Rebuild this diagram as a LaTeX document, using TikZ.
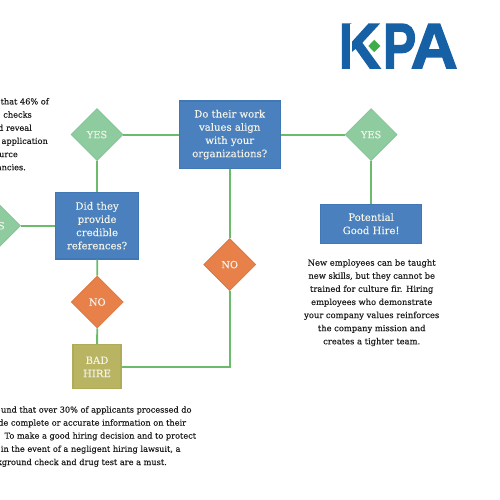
\documentclass[tikz,border=0pt]{standalone}
\usepackage{fontspec}
\usepackage{graphicx}
\setmainfont{DejaVu Serif}
\newfontfamily\bodyfont[FakeBold=0.25]{DejaVu Serif}
\newfontfamily\labelfont[FakeBold=0.1]{DejaVu Serif}
\newfontfamily\logofont[FakeBold=2.2]{Liberation Sans Bold}
\usetikzlibrary{shapes.geometric}
\definecolor{boxblue}{HTML}{4A80BE}
\definecolor{boxedge}{HTML}{3F78B4}
\definecolor{yesgreen}{HTML}{8ECC9F}
\definecolor{yesedge}{HTML}{82C596}
\definecolor{noorange}{HTML}{E8804A}
\definecolor{noedge}{HTML}{DD7840}
\definecolor{badolive}{HTML}{B9B462}
\definecolor{badedge}{HTML}{B0AB58}
\definecolor{linkgreen}{HTML}{6BBB6B}
\definecolor{logoblue}{HTML}{1660A5}
\definecolor{logogreen}{HTML}{3FAE4A}
\definecolor{shapetext}{HTML}{F3F3EA}
\definecolor{bodytext}{HTML}{1C1C1C}
\tikzset{
  x=1pt,y=-1pt,
  shapelabel/.style={text=shapetext,font=\labelfont\fontsize{10.1}{13.2}\selectfont,align=center,inner sep=0pt},
  bluebox/.style={shapelabel,rectangle,draw=boxedge,line width=1.2pt,fill=boxblue},
  yesdia/.style={shapelabel,diamond,aspect=1,draw=yesedge,line width=.8pt,fill=yesgreen,minimum width=52pt,minimum height=52pt,font=\labelfont\fontsize{9.8}{10}\selectfont},
  nodia/.style={yesdia,draw=noedge,fill=noorange},
  badbox/.style={shapelabel,rectangle,draw=badedge,line width=1.2pt,fill=badolive},
  link/.style={draw=linkgreen,line width=1.8pt},
  bodyline/.style={text=bodytext,font=\bodyfont\fontsize{8.2}{13.1}\selectfont,inner sep=0pt,anchor=mid east},
  bodypara/.style={text=bodytext,font=\bodyfont\fontsize{8.35}{13.1}\selectfont,inner sep=0pt,align=center}
}
\begin{document}
\begin{tikzpicture}
\useasboundingbox (0,0) rectangle (500,500);
\clip (0,0) rectangle (500,500);
% flow shapes
\node[bluebox,minimum width=101pt,minimum height=67pt] (values) at (229.7,134.6) {Do their work\\values align\\with your\\organizations?};
\node[bluebox,minimum width=83pt,minimum height=66.5pt] (refs) at (97.1,225.7) {Did they\\provide\\credible\\references?};
\node[bluebox,minimum width=101pt,minimum height=39pt] (good) at (371.1,223.7) {Potential\\Good Hire!};
\node[yesdia] (yesa) at (97,134.6) {YES};
\node[yesdia] (yesb) at (371.1,134.6) {YES};
\node[yesdia] (yesc) at (-5.5,225.7) {YES};
\node[nodia] (noa) at (97.3,302) {NO};
\node[nodia] (nob) at (229.7,264.6) {NO};
\node[badbox,minimum width=48pt,minimum height=44pt] (bad) at (97,366.8) {BAD\\HIRE};
% connectors
\draw[link] (yesa) -- (values);
\draw[link] (values) -- (yesb);
\draw[link] (yesb.south) -- (good.north);
\draw[link] (refs) -- (yesa);
\draw[link] (yesc) -- (refs);
\draw[link] (refs) -- (noa);
\draw[link] (noa) -- (bad);
\draw[link] (values) -- (nob);
\draw[link] (bad.east) -| (nob.south);
% logo
\node[inner sep=0pt,anchor=south west,text=logoblue] (logok) at (338.3,68.3) {\resizebox{42pt}{44pt}{\logofont K}};
\node[inner sep=0pt,anchor=south west,text=logoblue] (logop) at (383,68.3) {\resizebox{33pt}{44pt}{\logofont P}};
\node[inner sep=0pt,anchor=south west,text=logoblue] (logoa) at (410.5,68.3) {\resizebox{47pt}{44pt}{\logofont A}};
\fill[white] (350.2,24) rectangle (352.3,69);
\fill[logogreen] (374.3,39.8) -- (380.3,46) -- (374.3,52.2) -- (368.3,46) -- cycle;
% body text
\foreach \ypos/\xend/\linetext in {101.8/49/that 46\% of,115/32/checks,128.2/32/d reveal,141.3/48/application,154.5/18/urce,167.6/26/ancies.}
  \node[bodyline] at (\xend,\ypos) {\linetext};
\foreach \ypos/\xend/\linetext in {410/191.7/und that over 30\% of applicants processed do,423/186.3/de complete or accurate information on their,436/196.3/To make a good hiring decision and to protect,449.2/180.7/in the event of a negligent hiring lawsuit{,} a,462.4/167/kground check and drug test are a must.}
  \node[bodyline] at (\xend,\ypos) {\linetext};
\node[bodypara] (note) at (371.7,302.7) {New employees can be taught\\new skills, but they cannot be\\trained for culture fir. Hiring\\employees who demonstrate\\your company values reinforces\\the company mission and\\creates a tighter team.};
\end{tikzpicture}
\end{document}
